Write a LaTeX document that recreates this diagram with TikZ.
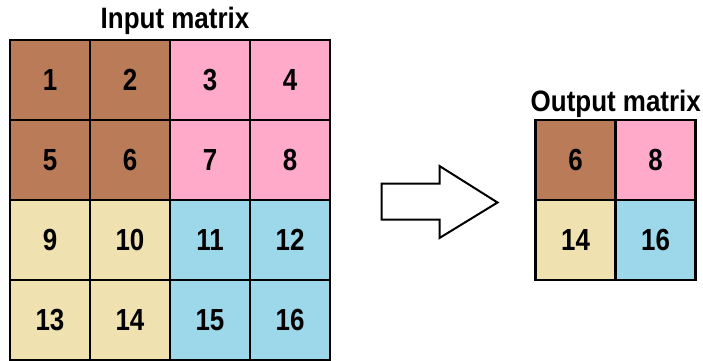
\documentclass[tikz,border=0pt]{standalone}
\usepackage{fontspec}
\usepackage{graphicx}
\setmainfont{Liberation Sans}
\definecolor{cbrown}{RGB}{185,123,88}
\definecolor{cpink}{RGB}{255,170,200}
\definecolor{cyellow}{RGB}{240,226,176}
\definecolor{cblue}{RGB}{156,216,234}
\newcommand\celltxt[1]{\scalebox{0.85}[1]{\fontsize{30.5}{30.5}\selectfont\bfseries #1}}
\tikzset{
  cell/.style={draw=black, line width=2.4pt, minimum width=80pt, minimum height=80pt, inner sep=0pt},
  title/.style={anchor=base, inner sep=0pt},
  bigarrow/.style={draw=black, fill=white, line width=2pt, line join=miter}
}
\begin{document}
\begin{tikzpicture}[x=1pt,y=-1pt]
\useasboundingbox (0,0) rectangle (703,360);
% input matrix
\node[cell, fill=cbrown]  (i1)  at (50,80)  {\celltxt{1}};
\node[cell, fill=cbrown]  (i2)  at (130,80) {\celltxt{2}};
\node[cell, fill=cpink]   (i3)  at (210,80) {\celltxt{3}};
\node[cell, fill=cpink]   (i4)  at (290,80) {\celltxt{4}};
\node[cell, fill=cbrown]  (i5)  at (50,160)  {\celltxt{5}};
\node[cell, fill=cbrown]  (i6)  at (130,160) {\celltxt{6}};
\node[cell, fill=cpink]   (i7)  at (210,160) {\celltxt{7}};
\node[cell, fill=cpink]   (i8)  at (290,160) {\celltxt{8}};
\node[cell, fill=cyellow] (i9)  at (50,240)  {\celltxt{9}};
\node[cell, fill=cyellow] (i10) at (130,240) {\celltxt{10}};
\node[cell, fill=cblue]   (i11) at (210,240) {\celltxt{11}};
\node[cell, fill=cblue]   (i12) at (290,240) {\celltxt{12}};
\node[cell, fill=cyellow] (i13) at (50,320)  {\celltxt{13}};
\node[cell, fill=cyellow] (i14) at (130,320) {\celltxt{14}};
\node[cell, fill=cblue]   (i15) at (210,320) {\celltxt{15}};
\node[cell, fill=cblue]   (i16) at (290,320) {\celltxt{16}};
\node[title] (tin) at (175,28.3) {\scalebox{0.88}[1]{\fontsize{29.5}{29.5}\selectfont\bfseries Input matrix}};
% output matrix
\node[cell, fill=cbrown]  (o1) at (575.5,160) {\celltxt{6}};
\node[cell, fill=cpink]   (o2) at (655.5,160) {\celltxt{8}};
\node[cell, fill=cyellow] (o3) at (575.5,240) {\celltxt{14}};
\node[cell, fill=cblue]   (o4) at (655.5,240) {\celltxt{16}};
\node[title] (tout) at (615.8,111.7) {\scalebox{0.88}[1]{\fontsize{29.5}{29.5}\selectfont\bfseries Output matrix}};
% arrow
\draw[bigarrow] (381.5,183.5) -- (439.5,183.5) -- (439.5,166) -- (497.5,202.5) -- (439.5,238) -- (439.5,219.5) -- (381.5,219.5) -- cycle;
\end{tikzpicture}
\end{document}
